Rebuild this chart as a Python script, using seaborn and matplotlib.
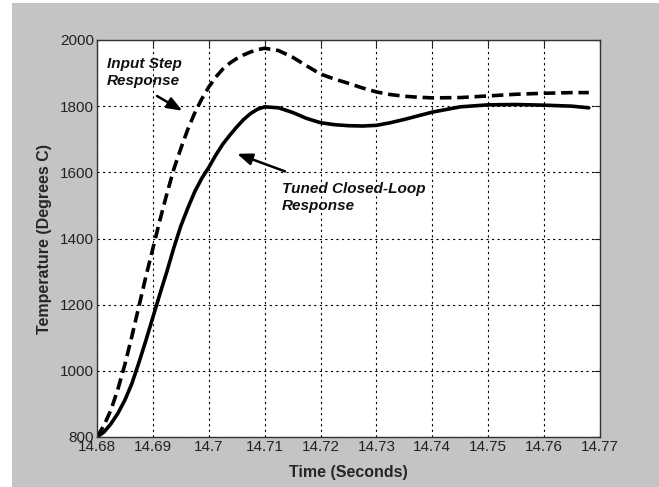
import numpy as np
import pandas as pd
import matplotlib
matplotlib.use("Agg")
import matplotlib.pyplot as plt
from matplotlib.patches import Rectangle
import seaborn as sns

# time axis (seconds)
t = [14.68, 14.68125, 14.6825, 14.68375, 14.685, 14.68625, 14.6875, 14.68875,
     14.69, 14.69125, 14.6925, 14.69375, 14.695, 14.69625, 14.6975, 14.69875,
     14.70, 14.70125, 14.7025, 14.70375, 14.705, 14.70625, 14.7075, 14.70875,
     14.71, 14.7125, 14.715, 14.7175, 14.72, 14.7225, 14.725, 14.7275, 14.73,
     14.7325, 14.735, 14.7375, 14.74, 14.745, 14.75, 14.755, 14.76, 14.765, 14.768]
# input step response (dashed)
step_resp = [800, 835, 882, 945, 1020, 1105, 1195, 1285,
             1370, 1455, 1535, 1610, 1672, 1730, 1780, 1822,
             1858, 1888, 1912, 1930, 1944, 1955, 1964, 1971,
             1975, 1968, 1948, 1922, 1897, 1882, 1869, 1855, 1843,
             1835, 1830, 1827, 1825, 1826, 1831, 1836, 1839, 1841, 1841]
# tuned closed-loop response (solid)
tuned_resp = [800, 815, 840, 872, 912, 962, 1025, 1092,
              1162, 1232, 1300, 1372, 1438, 1492, 1542, 1582,
              1615, 1652, 1685, 1712, 1737, 1760, 1778, 1791,
              1798, 1795, 1781, 1763, 1750, 1744, 1741, 1740, 1742,
              1750, 1760, 1771, 1782, 1798, 1804, 1805, 1803, 1800, 1795]

xticks = [14.68, 14.69, 14.70, 14.71, 14.72, 14.73, 14.74, 14.75, 14.76, 14.77]
xticklabels = ["14.68", "14.69", "14.7", "14.71", "14.72", "14.73", "14.74", "14.75", "14.76", "14.77"]
yticks = [800, 1000, 1200, 1400, 1600, 1800, 2000]

df = pd.DataFrame({"t": t, "step": step_resp, "tuned": tuned_resp})

sns.set_style("white")
plt.rcParams['font.family'] = ['Liberation Sans', 'DejaVu Sans']

fig = plt.figure(figsize=(6.59, 4.87), dpi=100, facecolor="white")
# gray MATLAB-like figure background with thin white margin left/top
fig.patches.append(Rectangle((12/659, 0), 1, 1 - 3/487, transform=fig.transFigure,
                             facecolor="#c4c4c4", edgecolor="none", zorder=-10))
ax = fig.add_axes([97/659, 50/487, 503/659, 397/487])
ax.set_facecolor("white")

sns.lineplot(data=df, x="t", y="step", ax=ax, color="black", lw=2.6,
             linestyle=(0, (3.2, 1.6)))
sns.lineplot(data=df, x="t", y="tuned", ax=ax, color="black", lw=2.6)

ax.set_xlim(14.68, 14.77)
ax.set_ylim(800, 2000)
ax.set_xticks(xticks)
ax.set_xticklabels(xticklabels)
ax.set_yticks(yticks)
ax.grid(True, color="black", linestyle=(0, (2, 3)), linewidth=0.8)
ax.tick_params(direction="in", length=4, labelsize=11, colors="#222222",
               top=True, right=True, pad=2)
for s in ax.spines.values():
    s.set_color("#333333")
    s.set_linewidth(1.0)

ax.set_xlabel("Time (Seconds)", fontsize=11.5, fontweight="bold", labelpad=8)
ax.set_ylabel("Temperature (Degrees C)", fontsize=11.5, fontweight="bold", labelpad=6)

ax.text(14.6818, 1950, "Input Step\nResponse", fontsize=11, fontweight="bold",
        style="italic", va="top", ha="left", color="#111111", linespacing=1.3)
ax.annotate("", xy=(14.6957, 1782), xytext=(14.6903, 1835),
            arrowprops=dict(arrowstyle="-|>,head_length=0.9,head_width=0.35",
                            color="black", lw=1.8))
ax.text(14.7131, 1572, "Tuned Closed-Loop\nResponse", fontsize=11, fontweight="bold",
        style="italic", va="top", ha="left", color="#111111", linespacing=1.3)
ax.annotate("", xy=(14.7046, 1659), xytext=(14.7141, 1600),
            arrowprops=dict(arrowstyle="-|>,head_length=0.9,head_width=0.35",
                            color="black", lw=1.8))

fig.savefig("out.png", dpi=100, facecolor=fig.get_facecolor())
